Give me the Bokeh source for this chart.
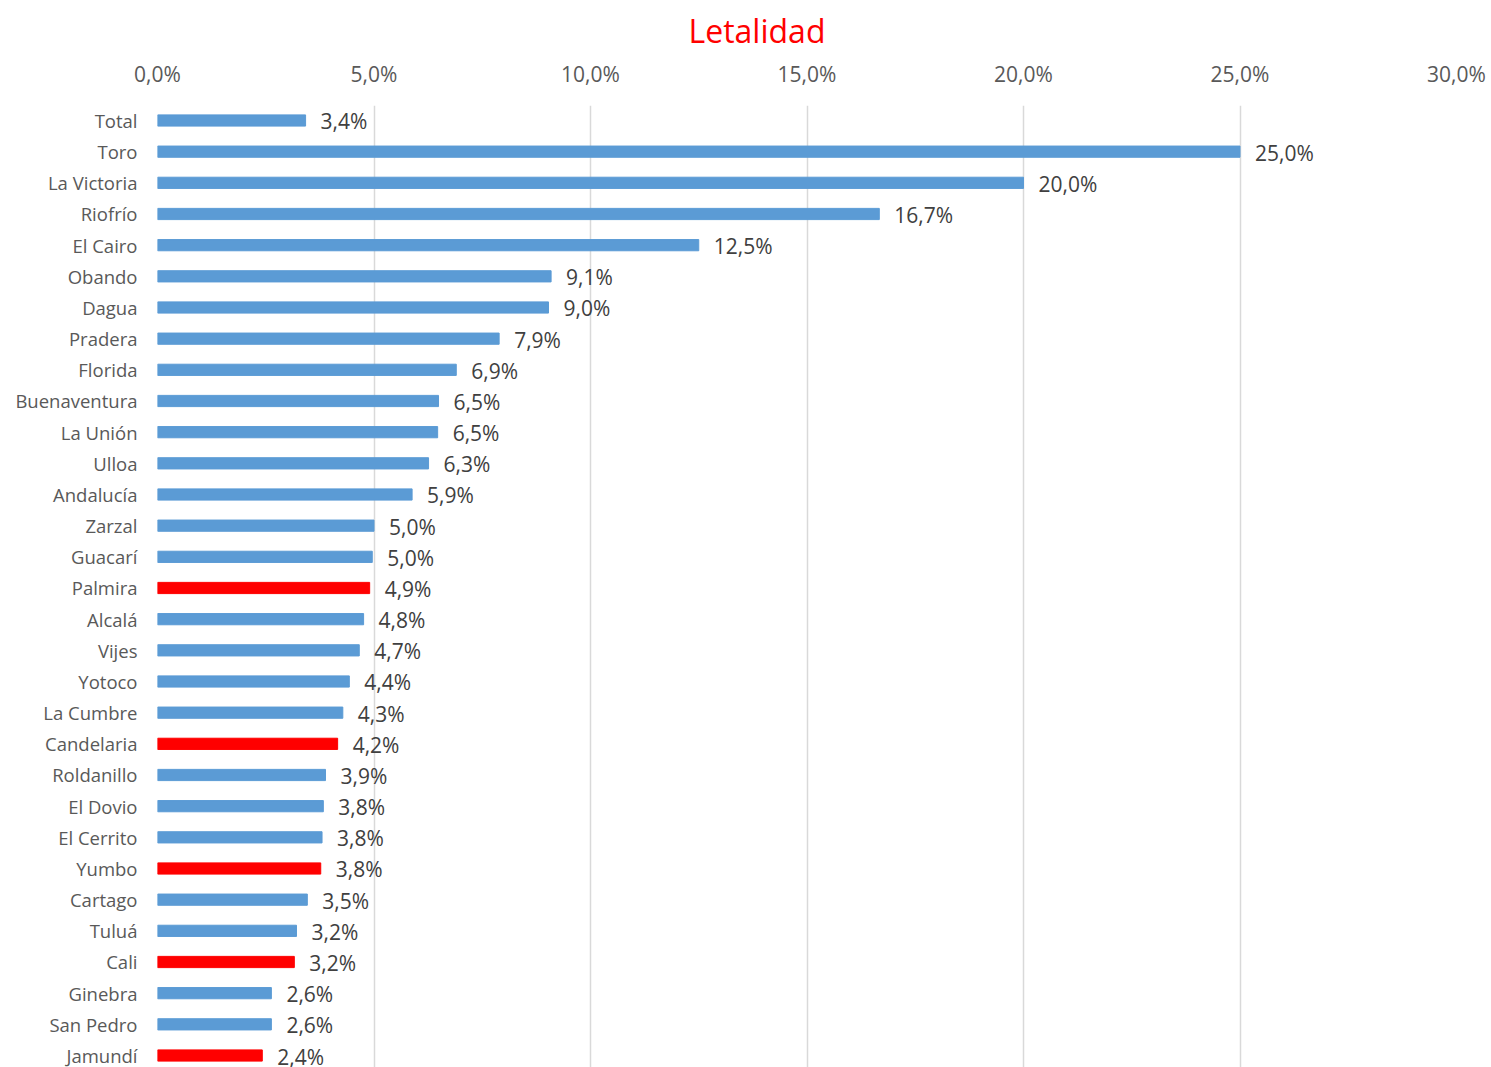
from bokeh.plotting import figure
from bokeh.models import ColumnDataSource, Range1d, FixedTicker
from bokeh.core.properties import value
from bokeh.embed import file_html
from bokeh.resources import INLINE

categories = ["Total", "Toro", "La Victoria", "Riofrío", "El Cairo", "Obando", "Dagua",
              "Pradera", "Florida", "Buenaventura", "La Unión", "Ulloa", "Andalucía",
              "Zarzal", "Guacarí", "Palmira", "Alcalá", "Vijes", "Yotoco", "La Cumbre",
              "Candelaria", "Roldanillo", "El Dovio", "El Cerrito", "Yumbo", "Cartago",
              "Tuluá", "Cali", "Ginebra", "San Pedro", "Jamundí"]
letalidad = [3.42, 25.0, 20.0, 16.67, 12.5, 9.09, 9.03,
             7.89, 6.90, 6.49, 6.47, 6.26, 5.88,
             5.00, 4.96, 4.90, 4.76, 4.66, 4.43, 4.28,
             4.16, 3.88, 3.83, 3.80, 3.77, 3.46,
             3.21, 3.16, 2.63, 2.63, 2.42]
highlighted = ["Palmira", "Candelaria", "Yumbo", "Cali", "Jamundí"]
x_ticks = [0, 5, 10, 15, 20, 25, 30]
x_tick_labels = ["0,0%", "5,0%", "10,0%", "15,0%", "20,0%", "25,0%", "30,0%"]

FONT = "Open Sans"
n = len(categories)
ypos = [n - 1 - i for i in range(n)]
colors = ["#ff0000" if c in highlighted else "#5b9bd5" for c in categories]
labels = [f"{v:.1f}".replace(".", ",") + "%" for v in letalidad]

src = ColumnDataSource(dict(y=ypos, val=letalidad, color=colors, label=labels, cat=categories))

p = figure(frame_width=1299, frame_height=962, output_backend="svg", toolbar_location=None,
           x_range=Range1d(0, 30), y_range=Range1d(-0.385, n - 1 + 0.481),
           x_axis_location="above", min_border_left=157, min_border_right=35,
           min_border_top=105, min_border_bottom=0)

p.hbar(y="y", left=0, right="val", height=0.36, color="color", source=src)
p.text(x="val", y="y", text="label", source=src, x_offset=15, y_offset=1,
       text_baseline="middle", text_align="left", text_font=value(FONT),
       text_font_size="21px", text_color="#404040")

p.title.text = "Letalidad"
p.title.align = "left"
p.title.offset = 531
p.title.text_color = "#ff0000"
p.title.text_font = FONT
p.title.text_font_size = "32px"
p.title.text_font_style = "normal"

xa = p.xaxis[0]
xa.ticker = FixedTicker(ticks=x_ticks)
xa.major_label_overrides = {t: l for t, l in zip(x_ticks, x_tick_labels)}
xa.axis_line_color = None
xa.major_tick_line_color = None
xa.minor_tick_line_color = None
xa.major_tick_out = 0
xa.major_tick_in = 0
xa.major_label_standoff = 18
xa.major_label_text_font = FONT
xa.major_label_text_font_size = "21px"
xa.major_label_text_color = "#595959"

ya = p.yaxis[0]
ya.ticker = FixedTicker(ticks=ypos)
ya.major_label_overrides = {y: c for y, c in zip(ypos, categories)}
ya.axis_line_color = None
ya.major_tick_line_color = None
ya.minor_tick_line_color = None
ya.major_tick_out = 0
ya.major_tick_in = 0
ya.major_label_standoff = 20
ya.major_label_text_font = FONT
ya.major_label_text_font_size = "18.5px"
ya.major_label_text_color = "#595959"

p.xgrid.ticker = FixedTicker(ticks=x_ticks)
p.xgrid.grid_line_color = "#d9d9d9"
p.xgrid.grid_line_width = 1.5
p.ygrid.grid_line_color = None
p.outline_line_color = None

open("out.html", "w").write(file_html(p, INLINE))
